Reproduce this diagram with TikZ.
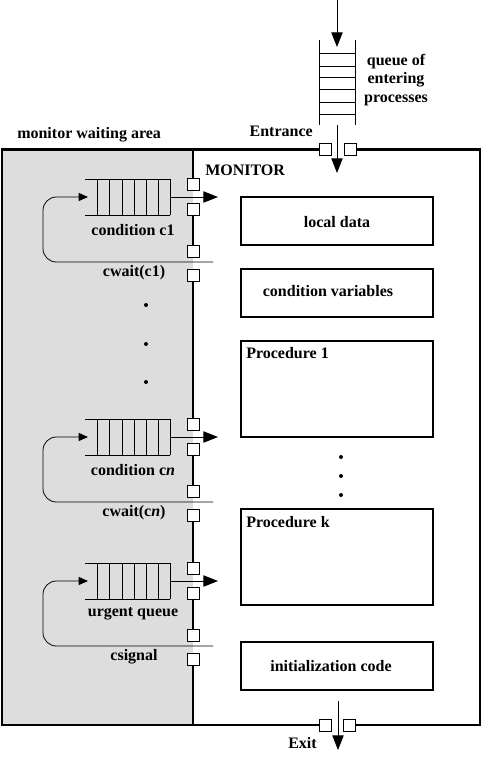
\documentclass[tikz,border=0pt]{standalone}
\usepackage{fontspec}
\setmainfont{Liberation Serif}
\usetikzlibrary{arrows.meta}
\definecolor{waitgray}{RGB}{221,221,221}
\begin{document}
\begin{tikzpicture}[x=0.75pt,y=-0.75pt,
  heavy/.style={line width=2.2pt},
  lbl/.style={font=\bfseries\fontsize{12}{14}\selectfont, inner sep=0pt},
  port/.style={draw, fill=white, line width=0.75pt, minimum size=9pt, inner sep=0pt},
  bigarrow/.style={-{Triangle[length=11pt,width=8.5pt]}, line width=0.75pt},
  smallarrow/.style={-{Triangle[length=7pt,width=6pt]}, line width=0.6pt},
  pbox/.style={draw, line width=2.2pt},
  qline/.style={line width=0.75pt},
  dot/.style={circle, fill, inner sep=0pt, minimum size=3pt}
]
\useasboundingbox (0,0) rectangle (483,771);
\fill[white] (0,0) rectangle (483,771);
% waiting area
\fill[waitgray] (2,149) rectangle (193,725);

% ports on the outer boundary
\node[port] (entL) at (325.5,149.5) {};
\node[port] (entR) at (350,149.5) {};
\node[port] (exL) at (325.5,725) {};
\node[port] (exR) at (349,725) {};

% entrance queue
\coordinate (topin) at (337,0);
\coordinate (eqtop) at (337,47);
\coordinate (eqbot) at (337,125);
\coordinate (einside) at (337,173);
\draw[qline] (319,40) -- (319,125);
\draw[qline] (355,40) -- (355,125);
\foreach \y in {53,66,77,89,102,114} \draw[qline] (319,\y) -- (355,\y);
\draw[bigarrow] (topin) -- (eqtop);
\draw[bigarrow] (eqbot) -- (einside);
\node[lbl, anchor=east] (entrance) at (313,131) {Entrance};
\node[lbl, align=center] (eqlabel) at (396,80) {queue of\\entering\\processes};
\node[lbl, anchor=west] (wait) at (17,135) {monitor waiting area};
\node[lbl, anchor=west] (monitor) at (205,170) {MONITOR};

% condition / urgent queues
\foreach \dy/\name/\qlab/\wlab in {
   0/c1/{condition c1}/{cwait(c1)},
   240/cn/{condition c\textit{n}}/{cwait(c\textit{n})},
   384/u/{urgent queue}/{csignal}} {
  \begin{scope}[shift={(0,\dy)}]
    \draw[qline] (85,179) -- (170,179);
    \draw[qline] (85,215) -- (170,215);
    \foreach \x in {97,109,122,134,146,158,170} \draw[qline] (\x,179) -- (\x,215);
    \coordinate (\name-out) at (170,197);
    \coordinate (\name-tip) at (218,197);
    \coordinate (\name-in) at (88,197);
    \coordinate (\name-ret) at (213,262);
    \node[port] (\name-p1) at (193,184.5) {};
    \node[port] (\name-p2) at (193,209) {};
    \node[port] (\name-p3) at (193,251) {};
    \node[port] (\name-p4) at (193,275) {};
    \draw[bigarrow] (\name-out) -- (\name-tip);
    \draw[smallarrow, rounded corners=10] (\name-ret) -- (43,262) -- (43,197) -- (\name-in);
    \node[lbl] (\name-qlab) at (133,230) {\qlab};
    \node[lbl] (\name-wlab) at (134,273) {\wlab};
  \end{scope}
}

% outer boundary, interrupted at the ports
\draw[heavy, line join=miter] (entL.west) -- (2,149.5) -- (2,725) -- (exL.west);
\draw[heavy, line join=miter] (entR.east) -- (480,149.5) -- (480,725) -- (exR.east);
% boundary between waiting area and monitor
\draw[heavy] (193,149) -- (c1-p1.north);
\draw[heavy] (c1-p2.south) -- (c1-p3.north);
\draw[heavy] (c1-p4.south) -- (cn-p1.north);
\draw[heavy] (cn-p2.south) -- (cn-p3.north);
\draw[heavy] (cn-p4.south) -- (u-p1.north);
\draw[heavy] (u-p2.south) -- (u-p3.north);
\draw[heavy] (u-p4.south) -- (193,725);

% dots
\foreach \y [count=\i] in {305,344,382} \node[dot] (ld\i) at (146,\y) {};
\foreach \y [count=\i] in {457,476,495} \node[dot] (rd\i) at (341,\y) {};

% monitor contents
\draw[pbox] (241,197) rectangle (433,245);
\node[lbl] (local) at (337,222) {local data};
\draw[pbox] (241,269) rectangle (433,317);
\node[lbl] (condvars) at (328,291) {condition variables};
\draw[pbox] (241,341) rectangle (433,437);
\node[lbl, anchor=west] (proc1) at (246,353) {Procedure 1};
\draw[pbox] (241,509) rectangle (433,605);
\node[lbl, anchor=west] (prock) at (246,522) {Procedure k};
\draw[pbox] (241,642) rectangle (433,690);
\node[lbl] (init) at (331,666) {initialization code};

% exit
\coordinate (exfrom) at (338,701);
\coordinate (exto) at (338,750);
\draw[bigarrow] (exfrom) -- (exto);
\node[lbl, anchor=east] (exit) at (317,743) {Exit};
\end{tikzpicture}
\end{document}
